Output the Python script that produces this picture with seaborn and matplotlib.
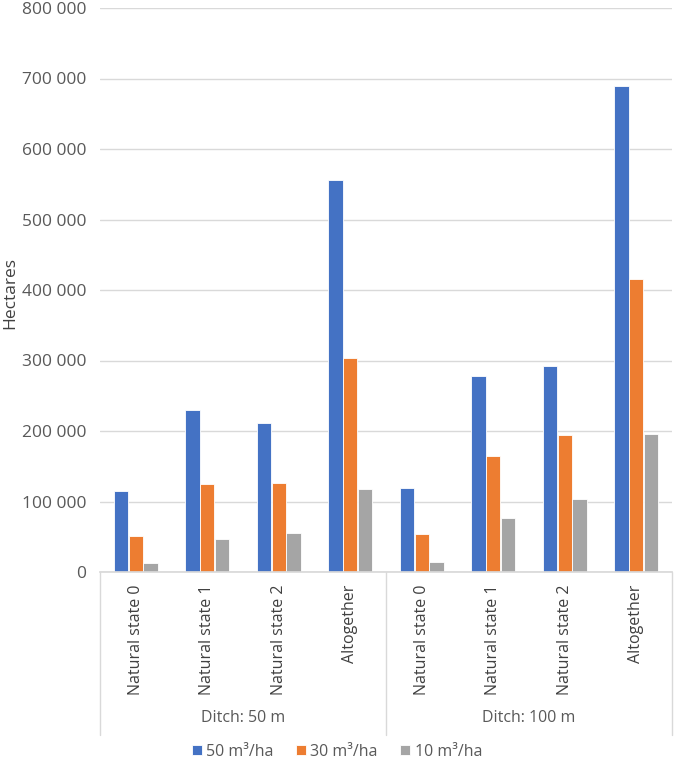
import pandas as pd
import matplotlib
matplotlib.use("Agg")
import matplotlib.pyplot as plt
import seaborn as sns
from matplotlib.ticker import FuncFormatter, MultipleLocator

# Data
ditches = ["Ditch: 50 m", "Ditch: 100 m"]
states = ["Natural state 0", "Natural state 1", "Natural state 2", "Altogether"]
series = ["50 m³/ha", "30 m³/ha", "10 m³/ha"]
vals_50 = [115000, 230000, 211000, 556000, 119000, 278000, 292000, 689000]
vals_30 = [51500, 125000, 126000, 304000, 54000, 164500, 195000, 416000]
vals_10 = [12800, 47000, 56000, 118000, 14000, 76600, 103500, 196000]
colors = ["#4472C4", "#ED7D31", "#A5A5A5"]

# Build long-format table
keys = [f"{d}|{s}" for d in ditches for s in states]
rows = []
for name, vals in zip(series, [vals_50, vals_30, vals_10]):
    for k, v in zip(keys, vals):
        rows.append({"cat": k, "series": name, "value": v})
df = pd.DataFrame(rows)

sns.set_theme(style="white")
plt.rcParams['font.family'] = ['Open Sans', 'DejaVu Sans']

fig = plt.figure(figsize=(6.75, 7.68), dpi=100)
ax = fig.add_axes([100 / 675, 196 / 768, 572 / 675, 564 / 768])

sns.barplot(data=df, x="cat", y="value", hue="series", order=keys,
            hue_order=series, palette=colors, saturation=1, width=0.62, gap=0.04,
            edgecolor="white", linewidth=0.6, ax=ax, legend=True)

ax.set_ylim(0, 800000)
ax.set_xlim(-0.5, 7.5)
ax.yaxis.set_major_locator(MultipleLocator(100000))
ax.yaxis.set_major_formatter(FuncFormatter(lambda v, p: f"{int(v):,}".replace(",", " ")))
ax.grid(axis="y", color="#D9D9D9", linewidth=1)
ax.set_axisbelow(True)
for side in ["left", "right", "top"]:
    ax.spines[side].set_visible(False)
ax.spines["bottom"].set_color("#D9D9D9")
ax.tick_params(axis="y", length=0, pad=10, labelsize=12.5, labelcolor="#595959")
ax.tick_params(axis="x", length=0, pad=9, labelsize=11.5, labelcolor="#404040")
ax.set_xticks(range(len(keys)))
ax.set_xticklabels([k.split("|")[1] for k in keys], rotation=90)
ax.set_xlabel("")
ax.set_ylabel("")
fig.text(10 / 675, 1 - 293 / 768, "Hectares", rotation=90, ha="center", va="center",
         fontsize=12.5, color="#404040")

# Group separators and group labels under the axis
trans = ax.get_xaxis_transform()
for xpos in [-0.5, 3.5, 7.5]:
    ax.plot([xpos, xpos], [0, -0.289], transform=trans, color="#D9D9D9",
            linewidth=1, clip_on=False)
for i, d in enumerate(ditches):
    ax.text(1.5 + 4 * i, -0.259, d, transform=trans, ha="center", va="center",
            fontsize=11.5, color="#595959")

# Legend at the bottom
handles, labels = ax.get_legend_handles_labels()
ax.legend_.remove()
fig.legend(handles, labels, loc="center", bbox_to_anchor=(337 / 675, 1 - 752 / 768),
           ncol=3, frameon=False, handlelength=0.6, handleheight=0.6,
           handletextpad=0.3, columnspacing=1.4, fontsize=11.5,
           labelcolor="#595959")

fig.savefig("out.png", dpi=100)
